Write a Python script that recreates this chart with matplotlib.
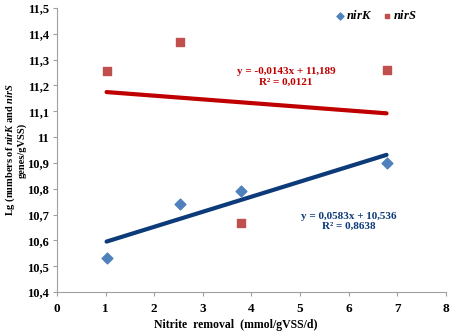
import matplotlib
matplotlib.use("Agg")
import matplotlib.pyplot as plt
import numpy as np

plt.rcParams['font.family'] = ['Liberation Serif', 'DejaVu Serif']
plt.rcParams['font.weight'] = 'bold'
plt.rcParams['mathtext.fontset'] = 'custom'
plt.rcParams['mathtext.rm'] = 'Liberation Serif:bold'
plt.rcParams['mathtext.it'] = 'Liberation Serif:italic:bold'
plt.rcParams['mathtext.bf'] = 'Liberation Serif:bold'

nitrite_removal = [1.02, 2.54, 3.79, 6.78]
nirK = [10.532, 10.740, 10.792, 10.898]
nirS = [11.257, 11.369, 10.668, 11.260]
nirK_fit = (0.0583, 10.536)
nirS_fit = (-0.0143, 11.189)
x_ticks = [0, 1, 2, 3, 4, 5, 6, 7, 8]
y_ticks = [10.4, 10.5, 10.6, 10.7, 10.8, 10.9, 11.0, 11.1, 11.2, 11.3, 11.4, 11.5]

fig = plt.figure(figsize=(4.54, 3.33), dpi=100)
ax = fig.add_axes([0.1256, 0.123, 0.8564, 0.853])

blue_m = '#4F81BD'
blue_l = '#0D3B7A'
red_m = '#C0504D'
red_l = '#C00000'

xs = np.array([min(nitrite_removal), max(nitrite_removal)])
ax.plot(xs, nirK_fit[0] * xs + nirK_fit[1], color=blue_l, lw=3, solid_capstyle='round', zorder=2)
ax.plot(xs, nirS_fit[0] * xs + nirS_fit[1], color=red_l, lw=3, solid_capstyle='round', zorder=2)
ax.scatter(nitrite_removal, nirK, marker='D', s=30, color=blue_m, zorder=3, label=r'$\it{nirK}$')
ax.scatter(nitrite_removal, nirS, marker='s', s=30, color=red_m, zorder=3, label=r'$\it{nirS}$')

ax.set_xlim(0, 8)
ax.set_ylim(10.4, 11.5)
ax.set_xticks(x_ticks)
ax.set_yticks(y_ticks)
ax.set_xticklabels([str(t) for t in x_ticks])
ax.set_yticklabels([('%.1f' % t).replace('.', ',').replace(',0', '') for t in y_ticks])
ax.tick_params(labelsize=9, length=3, color='#A0A0A0', pad=3)
ax.tick_params(axis='x', labelsize=9.5, pad=5)
for lbl in ax.get_xticklabels() + ax.get_yticklabels():
    lbl.set_fontweight('bold')
for s in ['top', 'right']:
    ax.spines[s].set_visible(False)
for s in ['left', 'bottom']:
    ax.spines[s].set_color('#A0A0A0')

ax.set_xlabel('Nitrite  removal  (mmol/gVSS/d)', fontsize=8.5, fontweight='bold')
ax.xaxis.set_label_coords(0.46, -0.095)
ax.set_ylabel('Lg (numbers of $\\it{nirK}$ and $\\it{nirS}$\ngenes/gVSS)', fontsize=7.5,
              fontweight='bold', linespacing=1.1)
ax.yaxis.set_label_coords(-0.108, 0.5)
ax.yaxis.label.set_va('center')

ax.text(4.71, 11.233, 'y = -0,0143x + 11,189\nR² = 0,0121', color=red_l, fontsize=8,
        fontweight='bold', ha='center', va='center', linespacing=1.15)
ax.text(6.01, 10.674, 'y = 0,0583x + 10,536\nR² = 0,8638', color=blue_l, fontsize=8,
        fontweight='bold', ha='center', va='center', linespacing=1.15)

leg = ax.legend(loc='upper right', bbox_to_anchor=(0.955, 1.035), ncol=2, frameon=False,
                fontsize=9, handletextpad=0.0, columnspacing=0.7, markerscale=0.65,
                handlelength=1.0)

fig.savefig('out.png', dpi=100)
